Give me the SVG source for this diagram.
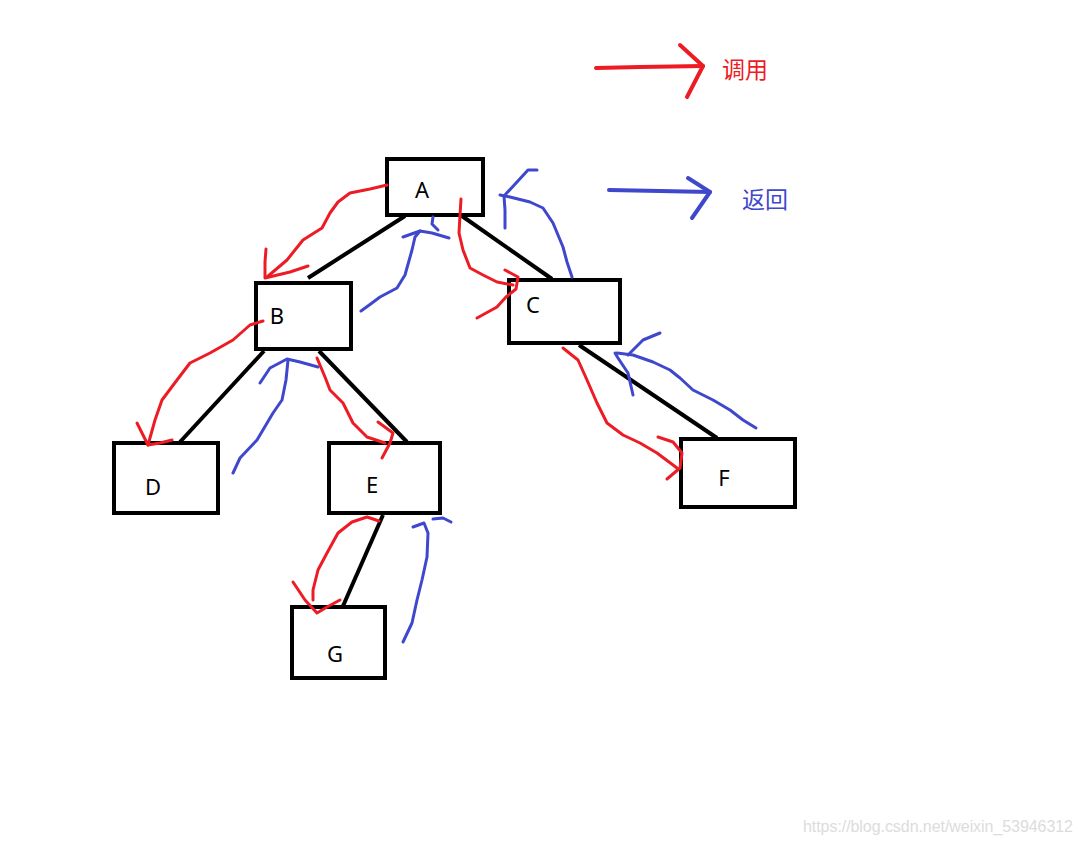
<svg xmlns="http://www.w3.org/2000/svg" width="1083" height="844" viewBox="0 0 1083 844">
<style>
.box{fill:#fff;stroke:#000;stroke-width:4}
.lbl{font-family:"Noto Sans","Open Sans",sans-serif;font-size:22px;fill:#000}
.edge{stroke:#000;stroke-width:4;fill:none}
.call{stroke:#ED1C24;stroke-width:3;fill:none;stroke-linecap:round;stroke-linejoin:round}
.ret{stroke:#3F48CC;stroke-width:3;fill:none;stroke-linecap:round;stroke-linejoin:round}
.leg{font-family:"Noto Sans CJK SC",sans-serif;font-size:23px}
</style>
<rect width="1083" height="844" fill="#fff"/>
<g id="edges">
<line class="edge" x1="405" y1="216" x2="308" y2="278"/>
<line class="edge" x1="462" y1="216" x2="552" y2="279"/>
<line class="edge" x1="264" y1="351" x2="180" y2="442"/>
<line class="edge" x1="319" y1="351" x2="407" y2="442"/>
<line class="edge" x1="383" y1="515" x2="343" y2="606"/>
<line class="edge" x1="579" y1="345" x2="717" y2="438"/>
</g>
<g id="A"><rect class="box" x="387" y="159" width="96" height="56"/><text class="lbl" x="422" y="198" text-anchor="middle">A</text></g>
<g id="B"><rect class="box" x="256" y="283" width="95" height="66"/><text class="lbl" x="277" y="324" text-anchor="middle">B</text></g>
<g id="C"><rect class="box" x="509" y="280" width="111" height="63"/><text class="lbl" x="533" y="313" text-anchor="middle">C</text></g>
<g id="D"><rect class="box" x="114" y="443" width="104" height="70"/><text class="lbl" x="153" y="495" text-anchor="middle">D</text></g>
<g id="E"><rect class="box" x="329" y="443" width="111" height="70"/><text class="lbl" x="372" y="493" text-anchor="middle">E</text></g>
<g id="F"><rect class="box" x="681" y="439" width="114" height="68"/><text class="lbl" x="724" y="486" text-anchor="middle">F</text></g>
<g id="G"><rect class="box" x="292" y="607" width="93" height="71"/><text class="lbl" x="335" y="662" text-anchor="middle">G</text></g>
<g id="connectors">
<polyline class="call" points="387,185 370,189 350,193 338,202 330,213 322,228 303,240 287,260 267,277"/>
<polyline class="call" points="266,249 265,262 265,278 290,272 308,266"/>
<polyline class="ret" points="361,311 372,303 380,297 397,288 405,275 412,250 415,237 420,231"/>
<polyline class="ret" points="403,237 420,231 432,233 449,238"/>
<polyline class="ret" points="433,217 432,224 438,230"/>
<polyline class="call" points="461,199 460,215 459,233 463,250 470,268 483,275 497,282 513,285"/>
<polyline class="call" points="505,270 518,277 516,289 506,297 497,307 477,318"/>
<polyline class="ret" points="572,277 567,262 563,247 553,223 543,208 530,202 510,197 500,195"/>
<polyline class="ret" points="505,228 505,210 504,196 517,182 528,170 537,170"/>
<polyline class="call" points="263,321 250,325 233,340 210,353 190,363 177,380 162,400 155,420 148,445"/>
<polyline class="call" points="137,423 143,435 148,445 160,443 172,440"/>
<polyline class="ret" points="233,473 240,458 257,440 273,413 282,400 286,380 288,360"/>
<polyline class="ret" points="260,383 270,368 287,359 300,362 318,367"/>
<polyline class="call" points="317,358 325,377 330,390 343,403 353,423 367,437 385,443"/>
<polyline class="call" points="378,422 393,433 390,443 382,458"/>
<polyline class="call" points="379,521 367,517 352,522 338,533 327,553 318,570 313,590 313,600"/>
<polyline class="call" points="293,582 305,600 317,613 327,607 340,600"/>
<polyline class="ret" points="403,642 412,623 417,600 422,580 427,557 428,533 424,523 413,527"/>
<polyline class="ret" points="433,519 443,518 451,522"/>
<polyline class="call" points="563,348 578,360 587,380 597,403 607,423 623,435 640,443 657,453 677,468"/>
<polyline class="call" points="658,437 673,442 682,453 680,468 667,479"/>
<polyline class="ret" points="756,428 743,420 730,410 713,400 693,390 680,378 670,370 653,362 633,355 617,353"/>
<polyline class="ret" points="660,333 643,340 628,355"/>
<polyline class="ret" points="615,353 618,358 628,373 633,395"/>
</g>
<g id="legend">
<polyline points="596,68 640,67 703,66" fill="none" stroke="#ED1C24" stroke-width="4" stroke-linecap="round"/>
<polyline points="680,45 703,66 687,97" fill="none" stroke="#ED1C24" stroke-width="4" stroke-linecap="round" stroke-linejoin="round"/>
<text class="leg" x="722" y="78" fill="#ED1C24">调用</text>
<polyline points="609,190 660,191 710,192" fill="none" stroke="#3F48CC" stroke-width="4" stroke-linecap="round"/>
<polyline points="688,178 710,192 692,218" fill="none" stroke="#3F48CC" stroke-width="4" stroke-linecap="round" stroke-linejoin="round"/>
<text class="leg" x="742" y="208" fill="#3F48CC">返回</text>
</g>
<text x="803" y="832" font-family="Liberation Sans,Arial,sans-serif" font-size="16" fill="#dcdcdc" textLength="270">https://blog.csdn.net/weixin_53946312</text>
</svg>
